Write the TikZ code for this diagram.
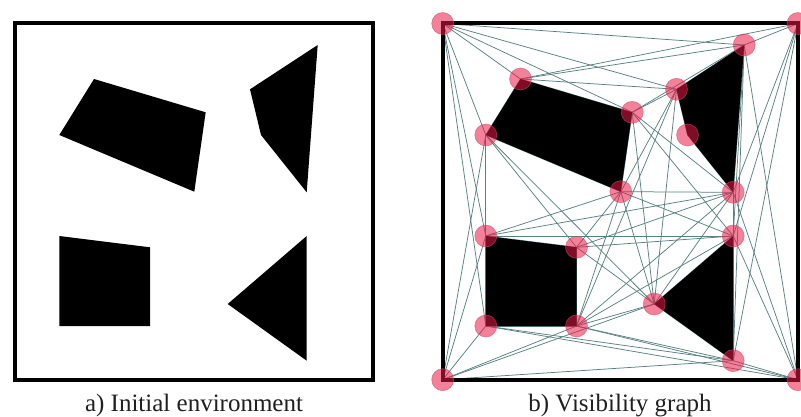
\documentclass[tikz,border=0pt]{standalone}
\usepackage{fontspec}
\setmainfont{Liberation Serif}
\definecolor{edgecol}{RGB}{90,128,128}
\definecolor{vfill}{RGB}{232,25,70}
\definecolor{vline}{RGB}{200,80,110}
\begin{document}
\begin{tikzpicture}[x=1pt,y=-1pt,
  edge/.style={draw=edgecol,line width=0.75pt},
  obst/.style={fill=black},
  frame/.style={draw=black,line width=4pt},
  vtx/.style={circle,minimum size=22pt,inner sep=0pt,fill=vfill,fill opacity=0.55,draw=vline,draw opacity=0.6,line width=0.6pt},
  captext/.style={font=\fontsize{25}{29}\selectfont,anchor=base,text=black!88}]
\useasboundingbox (0,0) rectangle (801,417);

% ---------- left panel ----------
\coordinate (la1) at (94,79);    \coordinate (la2) at (205.7,112.3);
\coordinate (la3) at (194.3,191.7); \coordinate (la4) at (59.3,135);
\coordinate (lb1) at (317.7,45); \coordinate (lb2) at (306.7,192.3);
\coordinate (lb3) at (261,135);  \coordinate (lb4) at (250,89.3);
\coordinate (ls1) at (59.3,236); \coordinate (ls2) at (150,247.3);
\coordinate (ls3) at (150,326);  \coordinate (ls4) at (59.3,326);
\coordinate (lt1) at (306.7,236); \coordinate (lt2) at (306.7,360.7);
\coordinate (lt3) at (227.7,304);
\fill[obst] (la1)--(la2)--(la3)--(la4)--cycle;
\fill[obst] (lb1)--(lb2)--(lb3)--(lb4)--cycle;
\fill[obst] (ls1)--(ls2)--(ls3)--(ls4)--cycle;
\fill[obst] (lt1)--(lt2)--(lt3)--cycle;
\draw[frame] (15.3,23.5) rectangle (373,379.7);
\node[captext] (capa) at (194,411) {a) Initial environment};

% ---------- right panel ----------
\begin{scope}[shift={(426.5,0)}]
\coordinate (A1) at (94,79);    \coordinate (A2) at (205.7,112.3);
\coordinate (A3) at (194.3,191.7); \coordinate (A4) at (59.3,135);
\coordinate (B1) at (317.7,45); \coordinate (B2) at (306.7,192.3);
\coordinate (B3) at (261,135);  \coordinate (B4) at (250,89.3);
\coordinate (S1) at (59.3,236); \coordinate (S2) at (150,247.3);
\coordinate (S3) at (150,326);  \coordinate (S4) at (59.3,326);
\coordinate (T1) at (306.7,236); \coordinate (T2) at (306.7,360.7);
\coordinate (T3) at (227.7,304);
\end{scope}
\coordinate (C1) at (442.7,23.5); \coordinate (C2) at (798,23.5);
\coordinate (C3) at (442.7,379.7); \coordinate (C4) at (798,379.7);

\foreach \a/\b in {C1/A1,C1/A2,C1/A4,C1/B1,C1/B4,C1/S1,C1/S4,
  C2/A1,C2/B1,C2/B2,C2/T1,C2/T2,
  C3/S4,C3/S3,C3/S1,C3/A4,C3/T3,C3/T2,
  C4/T2,C4/T1,C4/B2,C4/B1,C4/S3,C4/S4,
  A1/B1,A1/B4,
  A4/S1,A4/S2,A4/T3,
  A2/B4,A2/B1,A2/B2,A2/T1,A2/T3,
  A3/B2,A3/B4,A3/T1,A3/T3,A3/S1,A3/S2,A3/S3,
  B1/T1,B1/T2,
  B2/T1,B2/T3,B2/S1,B2/S2,B2/S3,
  B4/T3,B4/S3,
  T1/S1,T1/S2,T1/S3,
  T2/S3,T2/S4,
  T3/S2,T3/S3,
  A1/A2,A2/A3,A3/A4,A4/A1,B1/B2,B2/B3,B3/B4,B4/B1,
  S1/S2,S2/S3,S3/S4,S4/S1,T1/T2,T2/T3,T3/T1}
  \draw[edge] (\a) -- (\b);

\fill[obst] (A1)--(A2)--(A3)--(A4)--cycle;
\fill[obst] (B1)--(B2)--(B3)--(B4)--cycle;
\fill[obst] (S1)--(S2)--(S3)--(S4)--cycle;
\fill[obst] (T1)--(T2)--(T3)--cycle;
\draw[frame] (C1) rectangle (C4);

\foreach \v in {C1,C2,C3,C4,A1,A2,A3,A4,B1,B2,B3,B4,S1,S2,S3,S4,T1,T2,T3}
  \node[vtx] (v\v) at (\v) {};

\node[captext] (capb) at (620,411) {b) Visibility graph};
\end{tikzpicture}
\end{document}
